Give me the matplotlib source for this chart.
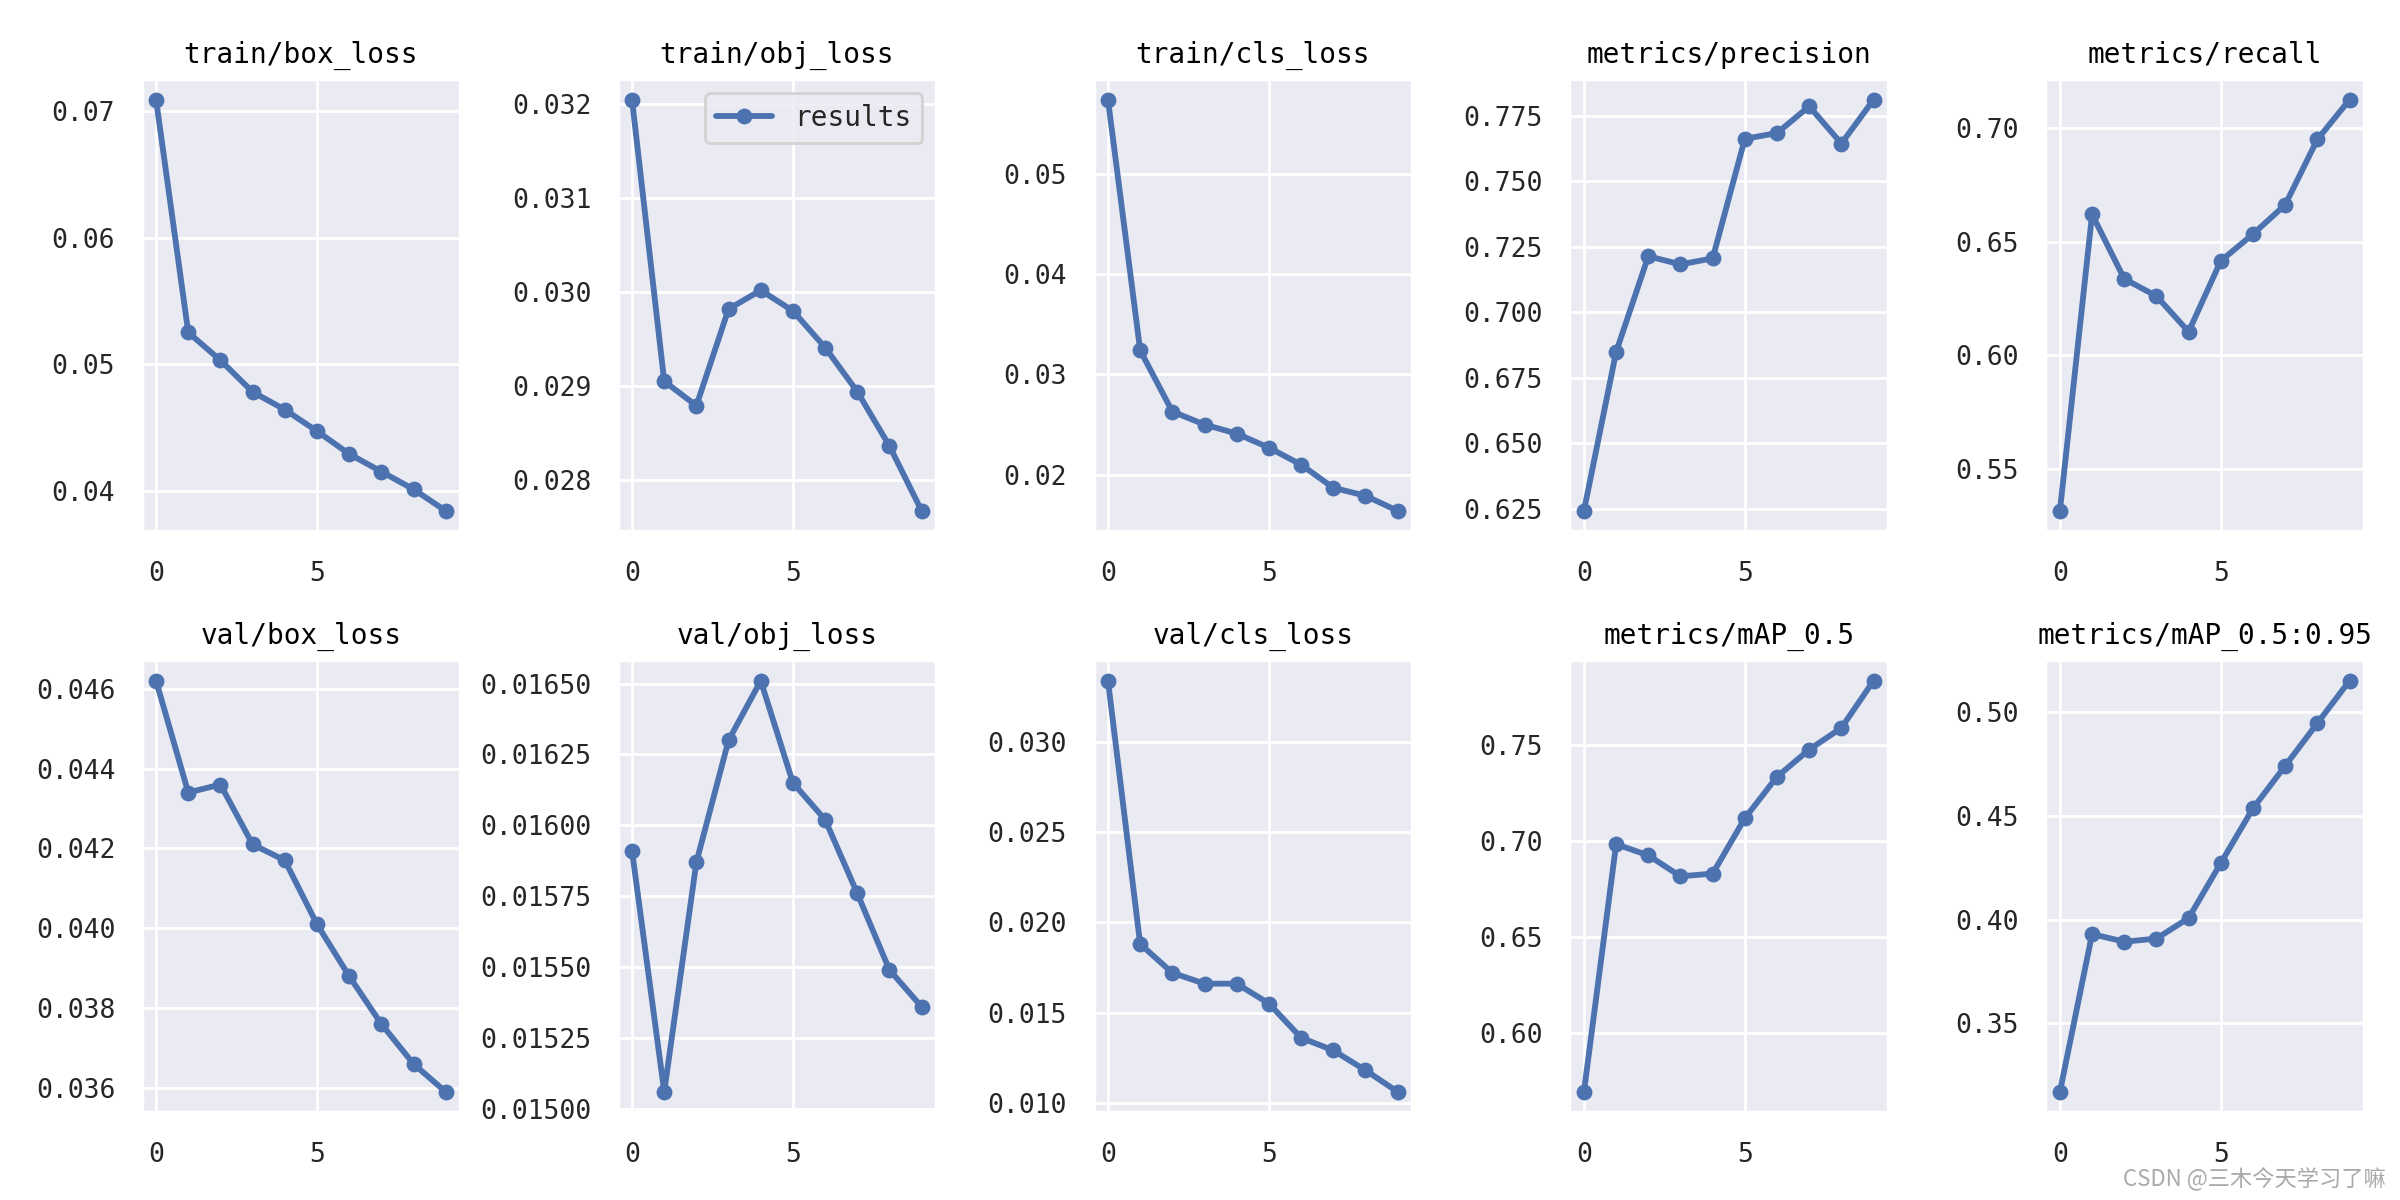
"""YOLOv5 训练结果曲线 - results.png"""
import numpy as np
import matplotlib
matplotlib.use('Agg')
import matplotlib.pyplot as plt
from matplotlib.ticker import MultipleLocator
import seaborn as sns

epochs = list(range(10))

titles = ['train/box_loss', 'train/obj_loss', 'train/cls_loss', 'metrics/precision', 'metrics/recall',
          'val/box_loss', 'val/obj_loss', 'val/cls_loss', 'metrics/mAP_0.5', 'metrics/mAP_0.5:0.95']

train_box_loss = [0.0709, 0.0525, 0.0503, 0.0478, 0.0464, 0.0447, 0.0429, 0.0415, 0.0401, 0.0384]
train_obj_loss = [0.03205, 0.02905, 0.02879, 0.02982, 0.03002, 0.02980, 0.02941, 0.02894, 0.02836, 0.02767]
train_cls_loss = [0.0574, 0.0324, 0.0263, 0.0250, 0.0241, 0.0227, 0.0210, 0.0187, 0.0179, 0.0164]
precision = [0.6243, 0.6849, 0.7214, 0.7183, 0.7206, 0.7662, 0.7684, 0.7786, 0.7644, 0.7811]
recall = [0.5315, 0.6621, 0.6337, 0.6261, 0.6104, 0.6416, 0.6534, 0.6663, 0.6951, 0.7126]
val_box_loss = [0.0462, 0.0434, 0.0436, 0.0421, 0.0417, 0.0401, 0.0388, 0.0376, 0.0366, 0.0359]
val_obj_loss = [0.01591, 0.01506, 0.01587, 0.01630, 0.01651, 0.01615, 0.01602, 0.01576, 0.01549, 0.01536]
val_cls_loss = [0.0334, 0.0188, 0.0172, 0.0166, 0.0166, 0.0155, 0.0136, 0.0129, 0.0118, 0.0106]
map_50 = [0.5696, 0.6984, 0.6926, 0.6817, 0.6831, 0.7119, 0.7335, 0.7476, 0.7589, 0.7834]
map_50_95 = [0.3168, 0.3930, 0.3893, 0.3908, 0.4007, 0.4273, 0.4537, 0.4742, 0.4948, 0.5153]

series = [train_box_loss, train_obj_loss, train_cls_loss, precision, recall,
          val_box_loss, val_obj_loss, val_cls_loss, map_50, map_50_95]

# y 轴刻度间隔
y_steps = [0.01, 0.001, 0.01, 0.025, 0.05,
           0.002, 0.00025, 0.005, 0.05, 0.05]

sns.set_theme(style='darkgrid')
plt.rcParams['font.family'] = ['DejaVu Sans Mono', 'Noto Sans CJK SC']

fig, axes = plt.subplots(2, 5, figsize=(12, 6), dpi=200)
fig.subplots_adjust(left=0.059, right=0.985, top=0.934, bottom=0.073, wspace=0.494, hspace=0.285)
axes = axes.ravel()

for i, (ax, title, y) in enumerate(zip(axes, titles, series)):
    ax.plot(epochs, y, marker='o', linewidth=2.1, markersize=4.7, color='#4c72b0', label='results')
    ax.set_title(title, fontsize=10, color='black', pad=6)
    ax.set_xticks([0, 5])
    ax.yaxis.set_major_locator(MultipleLocator(y_steps[i]))
    ax.tick_params(labelsize=9.5, colors='#262626')
    ax.tick_params(axis='x', pad=4.5)
    if i == 1:
        ax.legend(loc='upper right', fontsize=10)

fig.text(0.994, 0.017, 'CSDN @三木今天学习了嘛', ha='right', va='center',
         fontsize=8, color='#aaaaaa', family=['Noto Sans CJK SC', 'DejaVu Sans'])

plt.savefig('out.png', dpi=200)
plt.close(fig)
